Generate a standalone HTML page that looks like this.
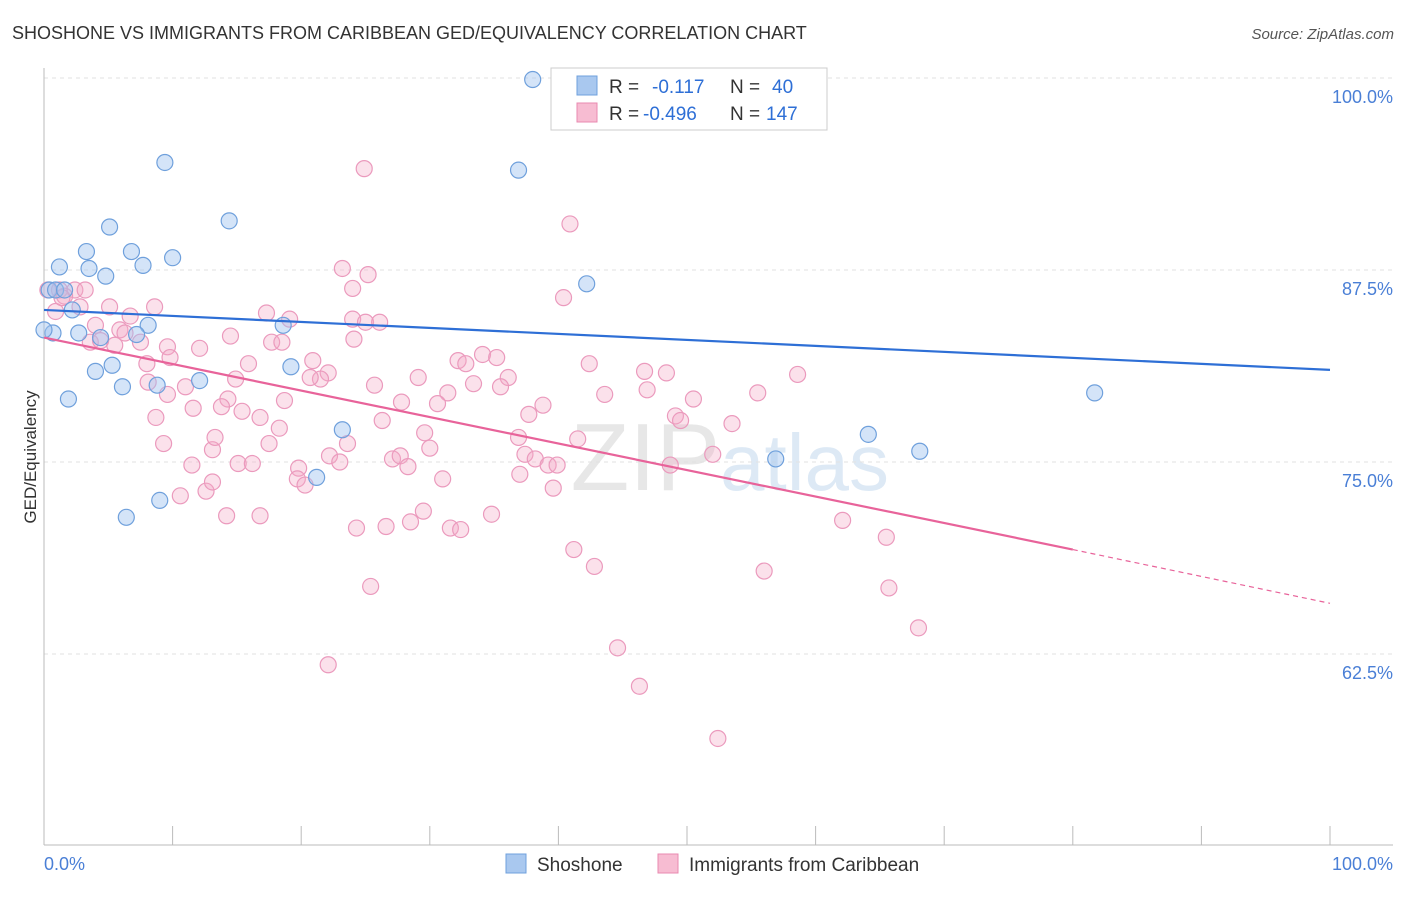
<!DOCTYPE html>
<html><head><meta charset="utf-8"><style>
body{margin:0;background:#fff;font-family:"Liberation Sans",sans-serif}
svg text{font-family:"Liberation Sans",sans-serif}
</style></head><body>
<svg id="c" width="1406" height="892" xmlns="http://www.w3.org/2000/svg">
<text x="12" y="39" font-size="18" fill="#333">SHOSHONE VS IMMIGRANTS FROM CARIBBEAN GED/EQUIVALENCY CORRELATION CHART</text>
<text x="1394" y="39" font-size="15" fill="#555" text-anchor="end" font-style="italic">Source: ZipAtlas.com</text>
<text x="36" y="457" font-size="17" fill="#333" text-anchor="middle" transform="rotate(-90 36 457)">GED/Equivalency</text>
<text x="720" y="490" font-size="96" fill="#d8d8d8" text-anchor="end" font-family="Liberation Serif" opacity="0.6">ZIP</text>
<text x="720" y="490" font-size="80" fill="#c8dcf0" opacity="0.6">atlas</text>
<g id="grid"></g><g id="pts"></g><g id="lines"></g>
<g>
<rect x="551" y="68" width="276" height="62" fill="#fff" stroke="#ccc"/>
<rect x="577" y="76" width="20" height="19" fill="#a9c8ef" stroke="#6fa0dc"/>
<rect x="577" y="103" width="20" height="19" fill="#f7bcd2" stroke="#e88ab0"/>
<text x="609" y="93" font-size="19" fill="#333">R = <tspan fill="#2e6fd6" x="652">-0.117</tspan><tspan x="730" fill="#333">N = </tspan><tspan x="772" fill="#2e6fd6">40</tspan></text>
<text x="609" y="120" font-size="19" fill="#333">R = <tspan fill="#2e6fd6" x="643">-0.496</tspan><tspan x="730" fill="#333">N = </tspan><tspan x="766" fill="#2e6fd6">147</tspan></text>
</g>
<g>
<rect x="506" y="854" width="20" height="19" fill="#a9c8ef" stroke="#6fa0dc"/>
<text x="537" y="871" font-size="19" fill="#333">Shoshone</text>
<rect x="658" y="854" width="20" height="19" fill="#f7bcd2" stroke="#e88ab0"/>
<text x="689" y="871" font-size="19" fill="#333">Immigrants from Caribbean</text>
</g>
</svg>
<script>
const yTicks=[100,87.5,75,62.5];
const yTickLabels=["100.0%","87.5%","75.0%","62.5%"];
const blueX=[38,50,9.4,36.9,14.4,5.1,3.3,6.8,10,1.2,3.5,7.7,4.8,42.2,0.4,0.9,2.2,18.6,8.1,0.7,2.7,4.4,7.2,5.3,4.0,19.2,12.1,6.1,8.8,1.9,81.7,23.2,64.1,68.1,56.9,21.2,9.0,6.4,0,1.6];
const blueY=[99.9,99.9,94.5,94,90.7,90.3,88.7,88.7,88.3,87.7,87.6,87.8,87.1,86.6,86.2,86.2,84.9,83.9,83.9,83.4,83.4,83.1,83.3,81.3,80.9,81.2,80.3,79.9,80.0,79.1,79.5,77.1,76.8,75.7,75.2,74.0,72.5,71.4,83.6,86.2];
const pinkX=[24.9,40.9,23.2,25.2,24.0,40.4,0.3,1.2,2.4,1.6,2.8,5.1,8.6,17.3,19.1,24.0,25.0,26.1,0.9,4.0,5.9,6.7,14.5,3.6,5.5,7.5,9.6,12.1,17.7,18.5,24.1,4.4,6.3,9.8,15.9,20.9,22.1,21.5,20.7,32.2,32.8,34.1,35.2,42.4,46.7,48.4,58.6,8.1,11.0,14.9,25.7,29.1,36.1,33.4,35.5,31.4,43.6,46.9,55.5,50.5,9.6,14.3,13.8,18.7,27.8,30.6,38.8,8.7,11.6,15.4,16.8,18.3,37.7,26.3,49.1,49.5,53.5,9.3,13.1,13.3,17.5,23.6,29.6,30.0,36.9,41.5,22.2,23.0,27.1,27.7,28.3,37.4,38.2,39.2,39.9,11.5,15.1,16.2,19.8,19.7,20.3,31.0,37.0,48.7,52.0,10.6,12.6,13.1,39.6,14.2,16.8,24.3,26.6,28.5,29.5,31.6,32.4,34.8,62.1,65.5,41.2,42.8,56.0,25.4,65.7,68.0,44.6,22.1,46.3,52.4,8.0,1.4,3.2];
const pinkY=[94.1,90.5,87.6,87.2,86.3,85.7,86.2,86.2,86.2,85.8,85.1,85.1,85.1,84.7,84.3,84.3,84.1,84.1,84.8,83.9,83.6,84.5,83.2,82.8,82.6,82.8,82.5,82.4,82.8,82.8,83.0,82.9,83.4,81.8,81.4,81.6,80.8,80.4,80.5,81.6,81.4,82.0,81.8,81.4,80.9,80.8,80.7,80.2,79.9,80.4,80.0,80.5,80.5,80.1,79.9,79.5,79.4,79.7,79.5,79.1,79.4,79.1,78.6,79.0,78.9,78.8,78.7,77.9,78.5,78.3,77.9,77.2,78.1,77.7,78.0,77.7,77.5,76.2,75.8,76.6,76.2,76.2,76.9,75.9,76.6,76.5,75.4,75.0,75.2,75.4,74.7,75.5,75.2,74.8,74.8,74.8,74.9,74.9,74.6,73.9,73.5,73.9,74.2,74.8,75.5,72.8,73.1,73.7,73.3,71.5,71.5,70.7,70.8,71.1,71.8,70.7,70.6,71.6,71.2,70.1,69.3,68.2,67.9,66.9,66.8,64.2,62.9,61.8,60.4,57.0,81.4,85.7,86.2];
const blueLine=[84.9,81.0];
const pinkLine=[83.1,69.3,65.8];
const X0=44,X1=1330,Y100=78,PX=15.36;
const sx=v=>X0+(X1-X0)*v/100, sy=v=>Y100+(100-v)*PX;
const NS="http://www.w3.org/2000/svg";
function mk(t,a,p){const e=document.createElementNS(NS,t);for(const k in a)e.setAttribute(k,a[k]);p.appendChild(e);return e;}
const svg=document.getElementById('c'),grid=document.getElementById('grid'),pts=document.getElementById('pts'),lines=document.getElementById('lines');
yTicks.forEach((t,i)=>{
 const g=mk('line',{x1:44,x2:1393,y1:sy(t),y2:sy(t),stroke:'#e2e2e2','stroke-dasharray':'4,4'},grid);
 
 
 const l=mk('text',{x:1393,y:sy(t)+25,'font-size':18,fill:'#4a7fd6','text-anchor':'end'},grid);l.textContent=yTickLabels[i];
 
 
});
const ax=mk('line',{x1:44,x2:1393,y1:845,y2:845,stroke:'#bbb'},grid);


const ay=mk('line',{x1:44,x2:44,y1:68,y2:845,stroke:'#bbb'},grid);


for(let i=0;i<=10;i++){const t=mk('line',{x1:sx(i*10),x2:sx(i*10),y1:826,y2:845,stroke:'#bbb'},grid);
 
 }
const xl=[["0.0%",44,'start'],["100.0%",1393,'end']];
xl.forEach(a=>{const t=mk('text',{x:a[1],y:870,'font-size':18,fill:'#4a7fd6','text-anchor':a[2]},grid);t.textContent=a[0];
 
 });
pinkX.forEach((x,i)=>{const c=mk('circle',{cx:sx(x),cy:sy(pinkY[i]),r:8,fill:'rgba(244,168,198,0.35)',stroke:'#eb9abd','stroke-width':1.2},pts);
 
 });
blueX.forEach((x,i)=>{const c=mk('circle',{cx:sx(x),cy:sy(blueY[i]),r:8,fill:'rgba(160,196,240,0.45)',stroke:'#6fa0dc','stroke-width':1.2},pts);
 
 });
const bl=mk('line',{x1:sx(0),y1:sy(blueLine[0]),x2:sx(100),y2:sy(blueLine[1]),stroke:'#2e6fd6','stroke-width':2.2},lines);


const pl=mk('line',{x1:sx(0),y1:sy(pinkLine[0]),x2:sx(80),y2:sy(pinkLine[1]),stroke:'#e8639a','stroke-width':2.2},lines);


const pd=mk('line',{x1:sx(80),y1:sy(pinkLine[1]),x2:sx(100),y2:sy(pinkLine[2]),stroke:'#e8639a','stroke-width':1.2,'stroke-dasharray':'5,4'},lines);


</script>
</body></html>
